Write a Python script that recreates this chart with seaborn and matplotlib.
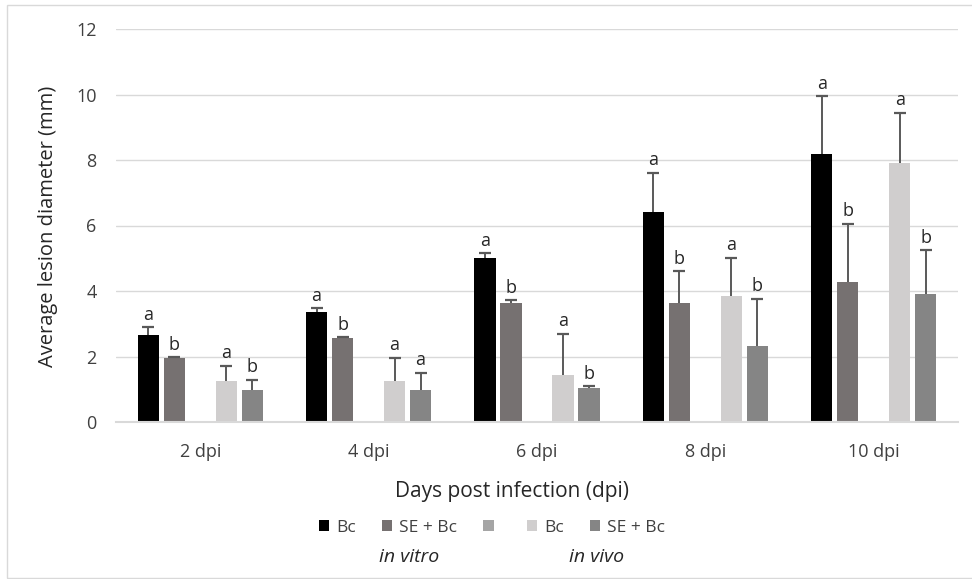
import matplotlib
matplotlib.use("Agg")
import matplotlib.pyplot as plt
import seaborn as sns
import pandas as pd
from matplotlib.patches import Rectangle

# Categories and series
days = ["2 dpi", "4 dpi", "6 dpi", "8 dpi", "10 dpi"]
series_keys = ["bc_vitro", "se_vitro", "spacer", "bc_vivo", "se_vivo"]
legend_labels = ["Bc", "SE + Bc", "", "Bc", "SE + Bc"]
colors = ["#000000", "#767171", "#A5A5A5", "#D0CECE", "#858585"]

# Mean lesion diameter (mm) and upper error (mm)
bc_vitro = [2.66, 3.36, 5.00, 6.41, 8.19]
bc_vitro_err = [0.24, 0.11, 0.15, 1.20, 1.75]
se_vitro = [1.94, 2.55, 3.64, 3.64, 4.28]
se_vitro_err = [0.03, 0.04, 0.07, 0.96, 1.77]
spacer = [0, 0, 0, 0, 0]
bc_vivo = [1.25, 1.26, 1.42, 3.84, 7.90]
bc_vivo_err = [0.47, 0.70, 1.28, 1.18, 1.55]
se_vivo = [0.99, 0.99, 1.03, 2.33, 3.91]
se_vivo_err = [0.30, 0.51, 0.07, 1.44, 1.33]

# Significance letters
bc_vitro_sig = ["a", "a", "a", "a", "a"]
se_vitro_sig = ["b", "b", "b", "b", "b"]
bc_vivo_sig = ["a", "a", "a", "a", "a"]
se_vivo_sig = ["b", "a", "b", "b", "b"]

values = [bc_vitro, se_vitro, spacer, bc_vivo, se_vivo]
errors = [bc_vitro_err, se_vitro_err, None, bc_vivo_err, se_vivo_err]
letters = [bc_vitro_sig, se_vitro_sig, None, bc_vivo_sig, se_vivo_sig]

rows = []
for key, vals in zip(series_keys, values):
    for d, v in zip(days, vals):
        rows.append({"day": d, "series": key, "value": v})
df = pd.DataFrame(rows)

sns.set_theme(style="white")
plt.rcParams["font.family"] = ["Open Sans", "DejaVu Sans"]

fig = plt.figure(figsize=(9.72, 5.79), dpi=100)
ax = fig.add_axes([116 / 972, 1 - 422 / 579, (958 - 116) / 972, (422 - 29) / 579])

sns.barplot(data=df, x="day", y="value", hue="series", order=days,
            hue_order=series_keys, palette=colors, width=0.772, gap=0.19,
            errorbar=None, linewidth=0, saturation=1, legend=False, ax=ax)

# Upper-only error bars with a cap, plus significance letters
err_color = "#595959"
for cont, errs, sig in zip(ax.containers, errors, letters):
    if errs is None:
        continue
    for patch, e, s in zip(cont.patches, errs, sig):
        xc = patch.get_x() + patch.get_width() / 2
        h = patch.get_height()
        ax.plot([xc, xc], [h, h + e], color=err_color, lw=1.4,
                solid_capstyle="butt", zorder=3)
        ax.plot([xc], [h + e], marker="_", markersize=9, markeredgewidth=1.6,
                color=err_color, zorder=3)
        ax.annotate(s, (xc, h + e), xytext=(0, 2.5), textcoords="offset points",
                    ha="center", va="bottom", fontsize=13, color="#262626")

ax.set_ylim(0, 12)
ax.set_yticks(range(0, 13, 2))
ax.set_xlim(-0.5, 4.5)
ax.yaxis.grid(True, color="#D9D9D9", linewidth=1)
ax.set_axisbelow(True)
for side in ["left", "right", "top"]:
    ax.spines[side].set_visible(False)
ax.spines["bottom"].set_color("#D9D9D9")
ax.spines["bottom"].set_linewidth(1.5)
ax.tick_params(axis="both", length=0, labelsize=13, colors="#404040")
ax.tick_params(axis="x", pad=15)
ax.tick_params(axis="y", pad=14)
ax.set_xlabel("")
ax.set_ylabel("")

fig.text(48 / 972, 1 - 226 / 579, "Average lesion diameter (mm)", rotation=90,
         ha="center", va="center", fontsize=14.5, color="#262626")
fig.text(512 / 972, 1 - 492 / 579, "Days post infection (dpi)",
         ha="center", va="center", fontsize=15, color="#262626")

handles = list(ax.containers)
fig.legend(handles, legend_labels, ncol=5, loc="center",
           bbox_to_anchor=(492 / 972, 1 - 528 / 579), frameon=False,
           fontsize=12.5, handlelength=0.6, handleheight=0.6,
           handletextpad=0.4, columnspacing=1.5, labelcolor="#404040")

fig.text(409 / 972, 1 - 557 / 579, "in vitro", style="italic",
         ha="center", va="center", fontsize=14, color="#262626")
fig.text(597 / 972, 1 - 557 / 579, "in vivo", style="italic",
         ha="center", va="center", fontsize=14, color="#262626")

# Chart frame
fig.patches.append(Rectangle((7 / 972, 1 / 579), 1.0, 1 - 6 / 579,
                             transform=fig.transFigure, fill=False,
                             edgecolor="#D9D9D9", linewidth=1))

fig.savefig("out.png", dpi=100)
